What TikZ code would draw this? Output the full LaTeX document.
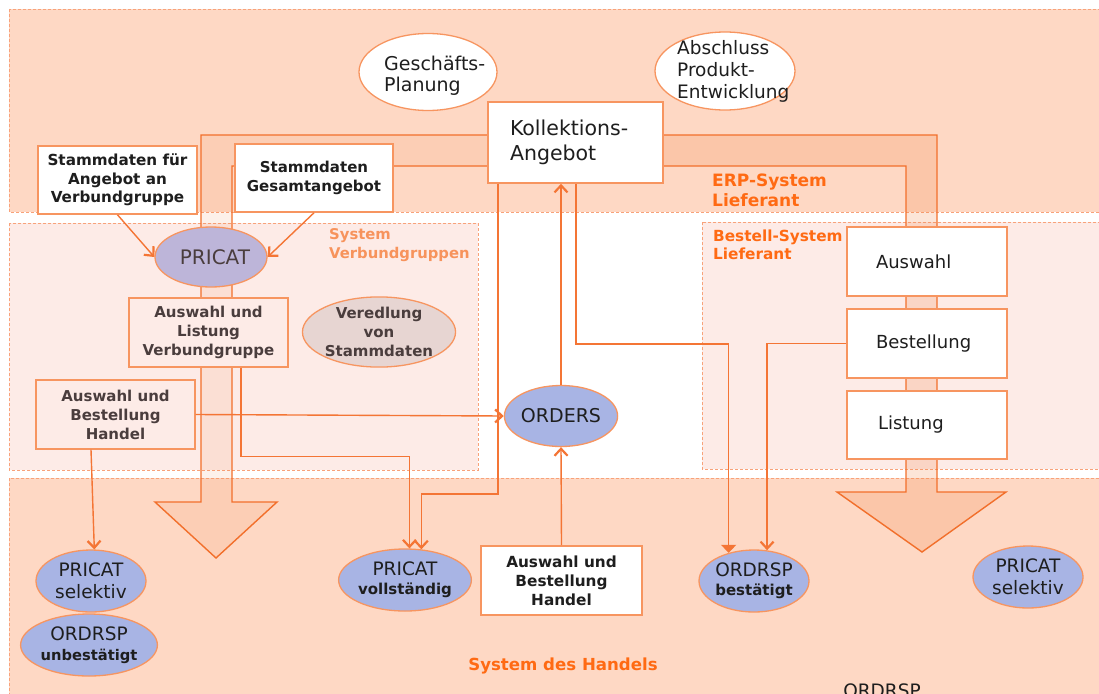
\documentclass[tikz,border=0pt]{standalone}
\usepackage{fontspec}
\setmainfont{DejaVu Sans}
\usetikzlibrary{shapes.geometric,arrows.meta}

\definecolor{peach}{HTML}{FED8C4}
\definecolor{pinkreg}{HTML}{FDEBE7}
\definecolor{regline}{HTML}{F8A27A}
\definecolor{bandline}{HTML}{F26F2B}
\definecolor{bandfill}{HTML}{F08040}
\definecolor{conline}{HTML}{F47535}
\definecolor{boxline}{HTML}{F79560}
\definecolor{lavender}{HTML}{BDB5D9}
\definecolor{bluefill}{HTML}{A8B4E4}
\definecolor{vered}{HTML}{E7D5D2}
\definecolor{hdorange}{HTML}{FF6A13}
\definecolor{lightorange}{HTML}{F7935C}
\definecolor{greytext}{HTML}{4A3D3D}
\definecolor{darktext}{HTML}{1E1E1E}

\newcommand\setfs[2]{\fontsize{#1}{#2}\selectfont}

\tikzset{
  region/.style={draw=regline, line width=0.9pt, dash pattern=on 3pt off 2pt},
  band/.style={draw=bandline, line width=1.4pt, line join=miter, fill=bandfill, fill opacity=0.2},
  stepbox/.style={draw=boxline, line width=1.6pt, fill=white, inner sep=0pt, text=darktext},
  pinkbox/.style={draw=boxline, line width=1.4pt, fill=pinkreg, inner sep=0pt, align=center, text=greytext,
    minimum width=159pt, minimum height=69pt, font=\setfs{15}{19}\bfseries},
  oval/.style={ellipse, draw=boxline, line width=1.3pt, inner sep=0pt, align=center, text=darktext},
  msg/.style={oval, fill=bluefill, minimum width=110pt, minimum height=62pt, font=\setfs{18.5}{22}},
  conn/.style={draw=conline, line width=1.4pt, -{Straight Barb[length=7pt,width=13pt,line width=2.2pt]}},
  fconn/.style={draw=conline, line width=1.4pt, -{Triangle[length=8pt,width=15pt]}},
  hlabel/.style={inner sep=0pt, align=left, text=hdorange, font=\setfs{17}{20}\bfseries},
}

\begin{document}
\begin{tikzpicture}[x=1pt,y=-1pt]
\useasboundingbox (0,0) rectangle (1099,693);
\fill[white] (0,0) rectangle (1099,693);

% system areas
\draw[region, fill=peach]   (9,9)     rectangle (1112,212);
\draw[region, fill=pinkreg] (9,223)   rectangle (478,470);
\draw[region, fill=pinkreg] (702,222) rectangle (1112,469);
\draw[region, fill=peach]   (9,478)   rectangle (1112,710);

% broad flow arrows leaving the collection offer
\filldraw[band, fill opacity=0.11] (488,135) -- (201,135) -- (201,502) -- (155,502) -- (216,558)
  -- (277,502) -- (232,502) -- (232,166) -- (488,166);
\filldraw[band] (663,135) -- (937,135) -- (937,492) -- (1006,492) -- (922,552)
  -- (837,492) -- (906,492) -- (906,166) -- (663,166);

% supplier ERP system
\node[oval, fill=white, minimum width=138pt, minimum height=77pt] (plan) at (428,72) {};
\node[inner sep=0pt, anchor=west, align=left, text=darktext, font=\setfs{19}{21}] (plantxt) at (384,75.5) {Geschäfts-\\Planung};
\node[oval, fill=white, minimum width=140pt, minimum height=78pt] (abschl) at (725,71) {};
\node[inner sep=0pt, anchor=west, align=left, text=darktext, font=\setfs{18.5}{22}] (abschltxt) at (677,71) {Abschluss\\Produkt-\\Entwicklung};

\node[stepbox, minimum width=175pt, minimum height=81pt, text width=131pt, align=left,
  font=\setfs{20.5}{25}] (koll) at (575.5,142.5) {Kollektions-\\Angebot};

\node[stepbox, minimum width=159pt, minimum height=68pt, align=center,
  font=\setfs{15.2}{18.5}\bfseries] (sfa) at (117.5,180) {Stammdaten für\\Angebot an\\Verbundgruppe};
\node[stepbox, minimum width=158pt, minimum height=68pt, align=center,
  font=\setfs{15}{19}\bfseries] (sga) at (314,178) {Stammdaten\\Gesamtangebot};

\node[hlabel, anchor=west] (erp) at (712,190) {ERP-System\\Lieferant};

% system of the buying groups
\node[hlabel, anchor=west, text=lightorange, font=\setfs{14.8}{18.7}\bfseries] (verb) at (329,245) {System\\Verbundgruppen};
\node[oval, fill=lavender, minimum width=112pt, minimum height=60pt, text=greytext,
  font=\setfs{20}{24}] (pricat) at (211,257) {\hspace*{8pt}PRICAT};
\node[pinkbox] (alv) at (208.5,332.5) {Auswahl und\\Listung\\Verbundgruppe};
\node[oval, fill=vered, minimum width=151pt, minimum height=70pt, text=greytext,
  font=\setfs{15}{19}\bfseries] (vered) at (379,332) {Veredlung\\von\\Stammdaten};
\node[pinkbox] (abh1) at (115.5,414.5) {Auswahl und\\Bestellung\\Handel};

\node[msg, minimum width=111pt, minimum height=61pt, font=\setfs{19}{22}] (orders) at (561,416) {ORDERS};

% supplier ordering system
\node[hlabel, anchor=west, font=\setfs{15.3}{18.5}\bfseries] (bestsys) at (713,245) {Bestell-System\\Lieferant};
\node[stepbox, minimum width=160pt, minimum height=69pt, text width=102pt, align=left,
  font=\setfs{18}{22}] (auswahl) at (927,261.5) {Auswahl};
\node[stepbox, minimum width=160pt, minimum height=69pt, text width=102pt, align=left,
  font=\setfs{18}{22}] (bestellung) at (927,343.5) {Bestellung};
\node[stepbox, minimum width=160pt, minimum height=68pt, text width=102pt, align=left,
  font=\setfs{18}{22}] (listung) at (927,425) {\hspace*{2pt}Listung};

% retail system
\node[msg] (psel1) at (91,581) {PRICAT\\selektiv};
\node[msg] (ounb) at (89,645) {ORDRSP\\[-2pt]{\setfs{14.7}{18}\bfseries unbestätigt}};
\node[msg] (pvoll) at (405,580) {PRICAT\\[-3pt]{\setfs{15}{18}\bfseries vollständig}};
\node[stepbox, minimum width=161pt, minimum height=69pt, align=center,
  font=\setfs{15.3}{19}\bfseries] (abh2) at (561.5,580.5) {Auswahl und\\Bestellung\\Handel};
\node[msg] (obest) at (754,581) {ORDRSP\\[-3pt]{\setfs{15}{18}\bfseries bestätigt}};
\node[msg] (psel2) at (1028,577) {PRICAT\\selektiv};
\node[hlabel, anchor=center, font=\setfs{16.6}{20}\bfseries] (handel) at (563,666) {System des Handels};
\node[inner sep=0pt, anchor=base, text=darktext, font=\setfs{18.5}{22}] (ordrsp) at (882,697) {ORDRSP};

% message flows
\draw[conn] (sfa.south) -- (pricat.west);
\draw[conn] (sga.south) -- (pricat.east);
\draw[conn] ([xshift=-77.5pt]koll.south) -- ++(0,310) -| (pvoll.62);
\draw[conn] ([xshift=32.5pt]alv.south) -- ++(0,89) -| (pvoll.82);
\draw[conn] (abh1.east) -- (orders.west);
\draw[conn] ([xshift=-24.5pt]abh1.south) -- (psel1.84);
\draw[conn] (orders.north) -- (orders.north |- koll.south);
\draw[conn] (abh2.north) -- (orders.south);
\draw[fconn] ([xshift=0.5pt]koll.south) -- ++(0,160) -| (obest.132);
\draw[conn] (bestellung.west) -| (obest.67);
\end{tikzpicture}
\end{document}
